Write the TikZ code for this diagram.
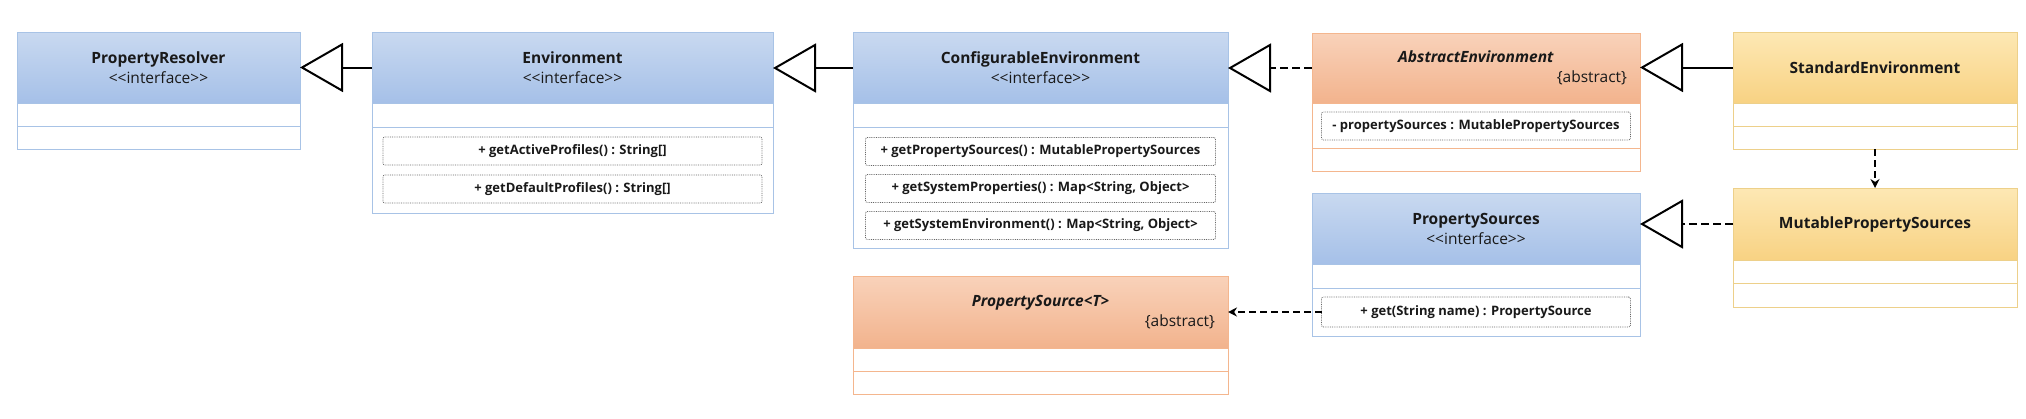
\documentclass[tikz,border=0pt]{standalone}
\usepackage{fontspec}
\setmainfont{Open Sans}
\usepackage{xcolor}
\usepackage{tikz}
\usetikzlibrary{arrows.meta, positioning}

\definecolor{bluetop}{HTML}{C9D9F0}
\definecolor{bluebot}{HTML}{A5C0E8}
\definecolor{blueline}{HTML}{A8C3E6}
\definecolor{orangetop}{HTML}{F9D2BA}
\definecolor{orangebot}{HTML}{F2B38D}
\definecolor{orangeline}{HTML}{F4B68E}
\definecolor{yellowtop}{HTML}{FDE8B4}
\definecolor{yellowbot}{HTML}{F8D283}
\definecolor{yellowline}{HTML}{EDD08A}

\begin{document}
\begin{tikzpicture}[
    x=1pt, y=-1pt,
    head/.style = {rectangle, draw, line width=1pt, inner sep=0pt, outer sep=0pt, align=center, text=black!90, font=\fontsize{15.5}{20}\selectfont\bfseries},
    iface/.style = {head, draw=blueline, top color=bluetop, bottom color=bluebot},
    abstr/.style = {head, draw=orangeline, top color=orangetop, bottom color=orangebot},
    concr/.style = {head, draw=yellowline, top color=yellowtop, bottom color=yellowbot},
    part/.style = {rectangle, draw, line width=1pt, fill=white, inner sep=0pt, outer sep=0pt},
    member/.style = {rectangle, draw=black!60, densely dotted, line width=0.8pt, rounded corners=2pt, fill=white, inner sep=0pt, outer sep=0pt, minimum height=28pt, text=black!90, font=\fontsize{13}{15}\selectfont\bfseries},
    inherit/.style = {line width=2pt, -{Triangle[open, length=43pt, width=49pt, fill=white]}},
    realize/.style = {inherit, dash pattern=on 8pt off 4pt},
    depend/.style = {line width=2pt, dash pattern=on 7pt off 4pt, -{Stealth[length=9pt, width=9pt]}}
]
    \useasboundingbox (0,0) rectangle (2026,418);

    % Nodes
    \node (res-head) [iface, minimum width=283pt, minimum height=71pt] at (158.5,67.5) {PropertyResolver\\\mdseries <{}<interface>{}>};
    \node (res-attr) [part, draw=blueline, minimum width=283pt, minimum height=23pt, below=0pt of res-head] {};
    \node (res-meth) [part, draw=blueline, minimum width=283pt, minimum height=23pt, below=0pt of res-attr] {};

    \node (env-head) [iface, minimum width=401pt, minimum height=71pt] at (572.5,67.5) {Environment\\\mdseries <{}<interface>{}>};
    \node (env-attr) [part, draw=blueline, minimum width=401pt, minimum height=24pt, below=0pt of env-head] {};
    \node (env-meth) [part, draw=blueline, minimum width=401pt, minimum height=86pt, below=0pt of env-attr] {};
    \node (env-m1) [member, minimum width=379pt, below=10pt of env-meth.north] {+ getActiveProfiles() : String[]};
    \node (env-m2) [member, minimum width=379pt, below=10pt of env-m1] {+ getDefaultProfiles() : String[]};

    \node (conf-head) [iface, minimum width=375pt, minimum height=71pt] at (1040.5,68) {ConfigurableEnvironment\\\mdseries <{}<interface>{}>};
    \node (conf-attr) [part, draw=blueline, minimum width=375pt, minimum height=24pt, below=0pt of conf-head] {};
    \node (conf-meth) [part, draw=blueline, minimum width=375pt, minimum height=121pt, below=0pt of conf-attr] {};
    \node (conf-m1) [member, minimum width=350pt, below=10pt of conf-meth.north] {+ getPropertySources() : MutablePropertySources};
    \node (conf-m2) [member, minimum width=350pt, below=9pt of conf-m1] {+ getSystemProperties() : Map<String, Object>};
    \node (conf-m3) [member, minimum width=350pt, below=9pt of conf-m2] {+ getSystemEnvironment() : Map<String, Object>};

    \node (abs-head) [abstr, text width=302pt, minimum width=328pt, minimum height=70pt] at (1476,68) {\textit{AbstractEnvironment}\\\hspace*{\fill}\mdseries\{abstract\}};
    \node (abs-attr) [part, draw=orangeline, minimum width=328pt, minimum height=45pt, below=0pt of abs-head] {};
    \node (abs-meth) [part, draw=orangeline, minimum width=328pt, minimum height=23pt, below=0pt of abs-attr] {};
    \node (abs-f1) [member, minimum width=309pt, below=9pt of abs-attr.north] {- propertySources : MutablePropertySources};

    \node (std-head) [concr, minimum width=284pt, minimum height=71pt] at (1875,67.5) {StandardEnvironment};
    \node (std-attr) [part, draw=yellowline, minimum width=284pt, minimum height=23pt, below=0pt of std-head] {};
    \node (std-meth) [part, draw=yellowline, minimum width=284pt, minimum height=23pt, below=0pt of std-attr] {};

    \node (mut-head) [concr, minimum width=284pt, minimum height=72pt] at (1875,224) {MutablePropertySources};
    \node (mut-attr) [part, draw=yellowline, minimum width=284pt, minimum height=23pt, below=0pt of mut-head] {};
    \node (mut-meth) [part, draw=yellowline, minimum width=284pt, minimum height=24pt, below=0pt of mut-attr] {};

    \node (ps-head) [iface, minimum width=328pt, minimum height=71pt] at (1476,228.5) {PropertySources\\\mdseries <{}<interface>{}>};
    \node (ps-attr) [part, draw=blueline, minimum width=328pt, minimum height=24pt, below=0pt of ps-head] {};
    \node (ps-meth) [part, draw=blueline, minimum width=328pt, minimum height=48pt, below=0pt of ps-attr] {};
    \node (ps-m1) [member, minimum width=309pt, minimum height=30pt, below=9pt of ps-meth.north] {+ get(String name) : PropertySource};

    \node (src-head) [abstr, text width=349pt, minimum width=375pt, minimum height=72pt] at (1040.5,312) {\textit{PropertySource<T>}\\\hspace*{\fill}\mdseries\{abstract\}};
    \node (src-attr) [part, draw=orangeline, minimum width=375pt, minimum height=23pt, below=0pt of src-head] {};
    \node (src-meth) [part, draw=orangeline, minimum width=375pt, minimum height=23pt, below=0pt of src-attr] {};

    % Arrows
    \draw [inherit] (env-head.west) -- (res-head.east);
    \draw [inherit] (conf-head.west) -- (conf-head.west -| env-head.east);
    \draw [realize] (abs-head.west) -- (conf-head.east);
    \draw [inherit] (std-head.west) -- (std-head.west -| abs-head.east);
    \draw [realize] (mut-head.west) -- (mut-head.west -| ps-head.east);
    \draw [depend] (std-meth.south) -- (mut-head.north);
    \draw [depend] (ps-m1.west) -- (ps-m1.west -| src-head.east);

\end{tikzpicture}
\end{document}
